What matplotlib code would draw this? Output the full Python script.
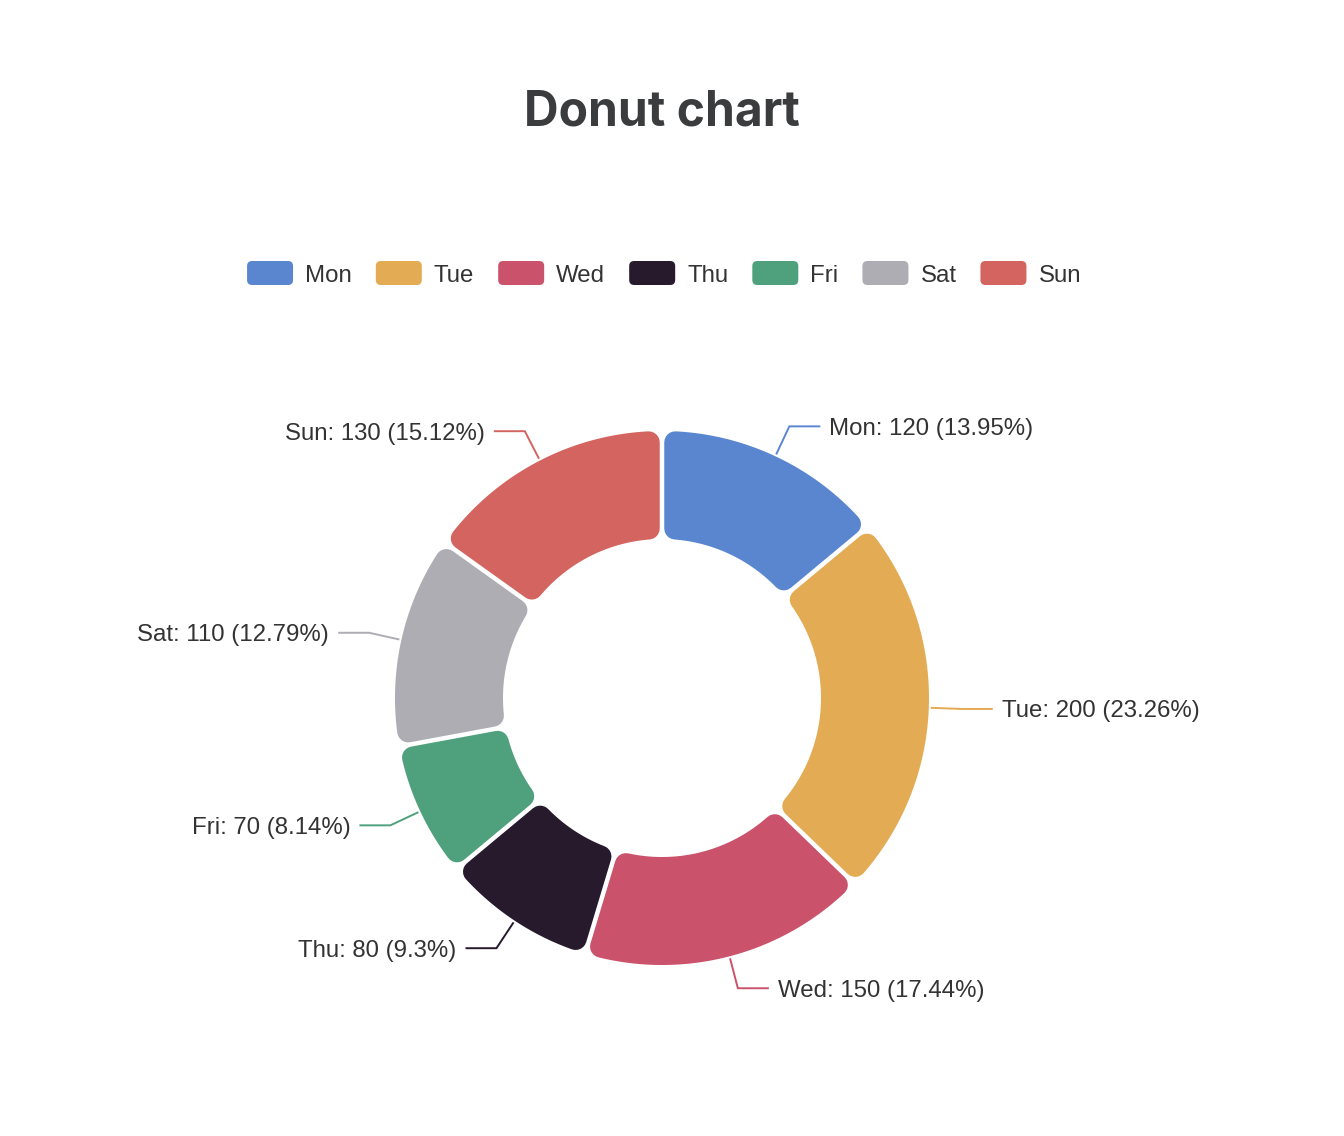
import numpy as np
import matplotlib
matplotlib.use("Agg")
import matplotlib.pyplot as plt
from matplotlib.patches import Polygon, FancyBboxPatch

# ---- data ----
categories = ["Mon", "Tue", "Wed", "Thu", "Fri", "Sat", "Sun"]
values = [120, 200, 150, 80, 70, 110, 130]
colors = ["#5a86d0", "#e3ac54", "#cb526b", "#271a2d", "#4fa07d", "#aeadb3", "#d4645f"]
title = "Donut chart"

# ---- layout (pixels) ----
W, H = 1344, 1136
PT = 0.72  # points per pixel at dpi 100
cx, cy = 662, 698
R_out, R_in = 267, 159
corner = 11
gap = 4.5
label_font = "Liberation Sans"
text_color = "#333333"

fig = plt.figure(figsize=(W / 100, H / 100), dpi=100)
ax = fig.add_axes([0, 0, 1, 1])
ax.set_xlim(0, W)
ax.set_ylim(H, 0)
ax.axis("off")


def pt(phi, r):
    return cx + r * np.sin(phi), cy - r * np.cos(phi)


total = float(sum(values))
start = 0.0
d = corner + gap / 2.0
Ro, Ri = R_out - corner, R_in + corner
for cat, v, col in zip(categories, values, colors):
    span = v / total * 2 * np.pi
    a, b = start, start + span
    ao, bo = a + np.arcsin(d / Ro), b - np.arcsin(d / Ro)
    ai, bi = a + np.arcsin(d / Ri), b - np.arcsin(d / Ri)
    t_out = np.linspace(ao, bo, 120)
    t_in = np.linspace(bi, ai, 120)
    xs = np.concatenate([cx + Ro * np.sin(t_out), cx + Ri * np.sin(t_in)])
    ys = np.concatenate([cy - Ro * np.cos(t_out), cy - Ri * np.cos(t_in)])
    poly = Polygon(np.column_stack([xs, ys]), closed=True, facecolor=col,
                   edgecolor=col, linewidth=2 * corner * PT, joinstyle="round")
    ax.add_patch(poly)

    # label line + label
    mid = (a + b) / 2
    x1, y1 = pt(mid, R_out + 3)
    x2, y2 = pt(mid, R_out + 33)
    right = x2 >= cx
    x3 = x2 + (30 if right else -30)
    ax.plot([x1, x2, x3], [y1, y2, y2], color=col, lw=1.4, solid_joinstyle="miter")
    pct = v / total * 100
    pct_s = f"{pct:.2f}".rstrip("0").rstrip(".")
    ax.text(x3 + (10 if right else -10), y2, f"{cat}: {v} ({pct_s}%)",
            ha="left" if right else "right", va="center_baseline",
            fontsize=24 * PT, family=label_font, color=text_color)
    start = b

# ---- title ----
ax.text(662, 108, title, ha="center", va="center_baseline", fontsize=48 * PT,
        family="Inter", fontweight="bold", color="#3b3c3e")

# ---- legend ----
fig.canvas.draw()
renderer = fig.canvas.get_renderer()
mk_w, mk_h, txt_gap, item_gap = 46, 24, 12, 24
leg_y = 273
widths = []
for cat in categories:
    t = ax.text(0, 0, cat, fontsize=24 * PT, family=label_font)
    bb = t.get_window_extent(renderer)
    widths.append(bb.width)
    t.remove()
total_w = sum(mk_w + txt_gap + w for w in widths) + item_gap * (len(categories) - 1)
x = 664 - total_w / 2
for cat, col, w in zip(categories, colors, widths):
    ax.add_patch(FancyBboxPatch((x, leg_y - mk_h / 2), mk_w, mk_h,
                                boxstyle="round,pad=0,rounding_size=5",
                                facecolor=col, edgecolor="none"))
    ax.text(x + mk_w + txt_gap, leg_y, cat, ha="left", va="center_baseline",
            fontsize=24 * PT, family=label_font, color=text_color)
    x += mk_w + txt_gap + w + item_gap

fig.savefig("out.png", dpi=100, facecolor="white")
